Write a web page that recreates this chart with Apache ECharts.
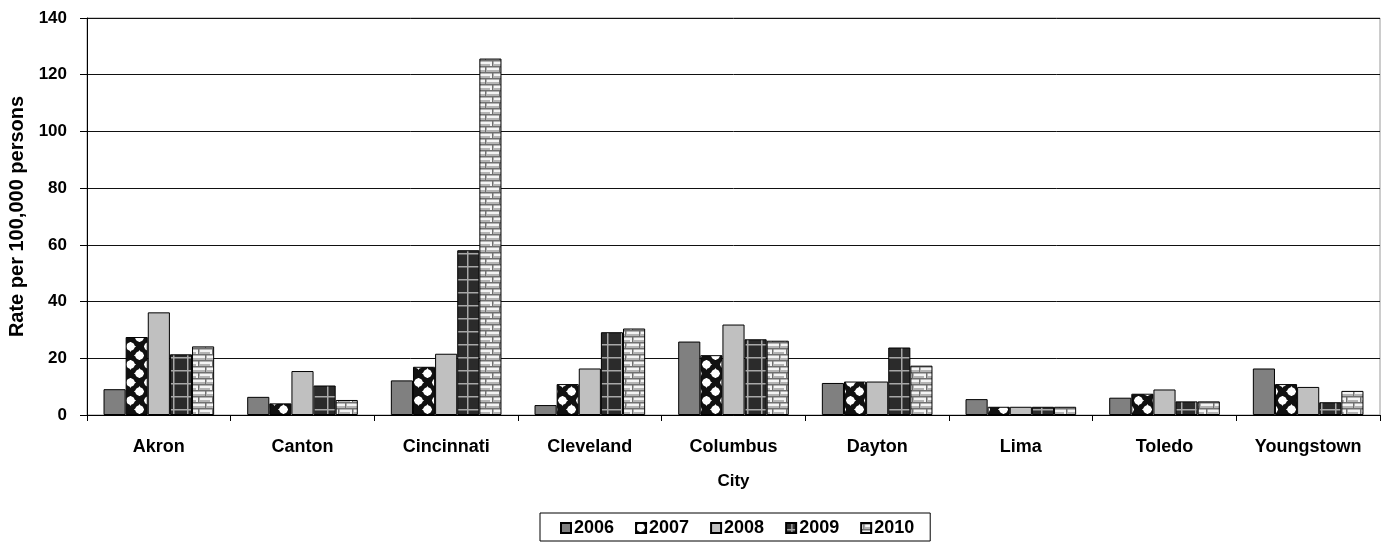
<!DOCTYPE html>
<html>
<head>
<meta charset="utf-8">
<script src="https://cdn.jsdelivr.net/npm/echarts@6/dist/echarts.min.js"></script>
<style>
  html, body { margin: 0; padding: 0; background: #fff; }
  #chart { width: 1387px; height: 543px; }
</style>
</head>
<body>
<div id="chart"></div>
<script>
// City rates per 100,000 persons, 2006-2010
const categories = ['Akron', 'Canton', 'Cincinnati', 'Cleveland', 'Columbus', 'Dayton', 'Lima', 'Toledo', 'Youngstown'];
const years = ['2006', '2007', '2008', '2009', '2010'];
const v2006 = [9.1, 6.4, 12.2, 3.5, 25.9, 11.3, 5.6, 6.1, 16.4];
const v2007 = [27.5, 4.1, 17.0, 10.9, 21.1, 11.8, 2.9, 7.5, 10.9];
const v2008 = [36.2, 15.5, 21.6, 16.4, 31.9, 11.8, 2.9, 9.0, 9.9];
const v2009 = [21.4, 10.4, 58.1, 29.2, 26.7, 23.8, 2.9, 4.8, 4.5];
const v2010 = [24.2, 5.3, 125.7, 30.5, 26.2, 17.4, 2.9, 4.8, 8.5];
const yTicks = [0, 20, 40, 60, 80, 100, 120, 140];

const seriesValues = [v2006, v2007, v2008, v2009, v2010];

// Fill patterns for the bars
function tile(w, h, draw) {
  const c = document.createElement('canvas');
  c.width = w; c.height = h;
  draw(c.getContext('2d'), w, h);
  return c;
}

const checkerTile = tile(18, 18, (ctx) => {
  ctx.fillStyle = '#111';
  ctx.fillRect(0, 0, 18, 18);
  ctx.fillStyle = '#fff';
  [[4.5, 4.5], [13.5, 13.5]].forEach(([x, y]) => {
    ctx.beginPath();
    ctx.moveTo(x, y - 5.6);
    ctx.quadraticCurveTo(x + 1.6, y - 1.6, x + 5.6, y);
    ctx.quadraticCurveTo(x + 1.6, y + 1.6, x, y + 5.6);
    ctx.quadraticCurveTo(x - 1.6, y + 1.6, x - 5.6, y);
    ctx.quadraticCurveTo(x - 1.6, y - 1.6, x, y - 5.6);
    ctx.fill();
    ctx.beginPath();
    ctx.arc(x, y, 4.1, 0, Math.PI * 2);
    ctx.fill();
  });
});

const gridTile = tile(14, 13, (ctx) => {
  ctx.fillStyle = '#2b2b2b';
  ctx.fillRect(0, 0, 14, 13);
  ctx.fillStyle = '#a8a8a8';
  ctx.fillRect(5, 0, 1.5, 13);
  ctx.fillRect(0, 6, 14, 1.5);
});

const brickTile = tile(14, 12, (ctx) => {
  ctx.fillStyle = '#f4f4f4';
  ctx.fillRect(0, 0, 14, 12);
  ctx.fillStyle = '#707070';
  ctx.fillRect(0, 0, 14, 1.5);
  ctx.fillRect(0, 6, 14, 1.5);
  ctx.fillRect(2, 0, 1.5, 6);
  ctx.fillRect(9, 6, 1.5, 6);
  ctx.fillStyle = '#b4b4b4';
  ctx.fillRect(3.5, 4, 10.5, 2);
  ctx.fillRect(10.5, 10, 3.5, 2);
  ctx.fillRect(0, 10, 9, 2);
});

const fills = [
  '#808080',
  { image: checkerTile, repeat: 'repeat' },
  '#c0c0c0',
  { image: gridTile, repeat: 'repeat' },
  { image: brickTile, repeat: 'repeat' }
];

const font = 'Liberation Sans, Arial, sans-serif';

const chart = echarts.init(document.getElementById('chart'), null, { renderer: 'canvas' });

chart.setOption({
  animation: false,
  backgroundColor: '#fff',
  textStyle: { fontFamily: font },
  grid: {
    left: 87, right: 7, top: 18, bottom: 128,
    outerBoundsMode: 'none',
    containLabel: false,
    show: true, borderColor: '#999', borderWidth: 1, backgroundColor: 'transparent'
  },
  legend: {
    data: years,
    bottom: 2,
    left: 540,
    orient: 'horizontal',
    borderColor: '#000',
    borderWidth: 1,
    padding: [6, 16, 4, 20],
    itemGap: 21,
    itemWidth: 10,
    itemHeight: 10,
    icon: 'rect',
    textStyle: { fontFamily: font, fontWeight: 'bold', fontSize: 18, color: '#000', padding: [0, 0, 0, -2] }
  },
  xAxis: {
    type: 'category',
    data: categories,
    name: 'City',
    nameLocation: 'middle',
    nameGap: 58,
    nameTextStyle: { fontFamily: font, fontWeight: 'bold', fontSize: 17, color: '#000' },
    axisLine: { lineStyle: { color: '#000', width: 1 } },
    axisTick: { show: true, alignWithLabel: false, length: 6, inside: false, lineStyle: { color: '#000' } },
    axisLabel: { fontFamily: font, fontWeight: 'bold', fontSize: 18, color: '#000', margin: 23 }
  },
  yAxis: {
    type: 'value',
    min: yTicks[0],
    max: yTicks[yTicks.length - 1],
    interval: yTicks[1] - yTicks[0],
    name: 'Rate per 100,000 persons',
    nameLocation: 'middle',
    nameGap: 59,
    nameRotate: 90,
    nameTextStyle: { fontFamily: font, fontWeight: 'bold', fontSize: 20, color: '#000' },
    axisLine: { show: true, lineStyle: { color: '#000', width: 1 } },
    axisTick: { show: true, length: 7, lineStyle: { color: '#000' } },
    axisLabel: { fontFamily: font, fontWeight: 'bold', fontSize: 17, color: '#000', margin: 20 },
    splitLine: { show: true, lineStyle: { color: '#111', width: 1 } }
  },
  series: years.map((y, i) => ({
    name: y,
    type: 'bar',
    data: seriesValues[i],
    barGap: '0%',
    barCategoryGap: '23%',
    itemStyle: { color: fills[i], borderColor: '#000', borderWidth: 1 }
  }))
});
</script>
</body>
</html>
